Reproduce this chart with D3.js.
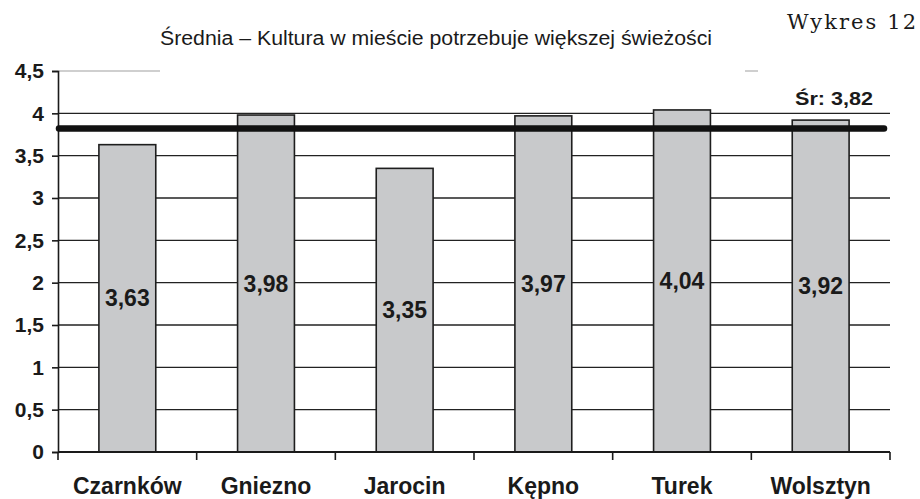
<!DOCTYPE html>
<html><head><meta charset="utf-8">
<script src="https://cdn.jsdelivr.net/npm/d3@7"></script>
<style>
html,body{margin:0;padding:0;background:#fff;}
svg{display:block;}
text{font-family:"Liberation Sans",Arial,sans-serif;fill:#1a1a1a;}
</style></head>
<body>
<svg id="chart" width="920" height="499"></svg>
<script>
const categories = ["Czarnków","Gniezno","Jarocin","Kępno","Turek","Wolsztyn"];
const values = [3.63, 3.98, 3.35, 3.97, 4.04, 3.92];
const meanValue = 3.82;
const yTicks = [0,0.5,1,1.5,2,2.5,3,3.5,4,4.5];
const title = "Średnia – Kultura w mieście potrzebuje większej świeżości";
const chartNo = "Wykres 12";
const fmt = v => String(v).replace(".", ",");

const svg = d3.select("#chart");
const m = {left:58, right:890, top:71, bottom:452};
const x = d3.scaleBand().domain(categories).range([m.left, m.right]).paddingInner(0).paddingOuter(0);
const y = d3.scaleLinear().domain([0,4.5]).range([m.bottom, m.top]);
const bw = x.bandwidth()*0.41;

// gridlines
svg.append("g").selectAll("line").data(yTicks.filter(t=>t>0 && t<4.5)).join("line")
  .attr("x1", m.left).attr("x2", m.right)
  .attr("y1", d=>y(d)).attr("y2", d=>y(d))
  .attr("stroke","#222").attr("stroke-width",1.4);
// faded top gridline (scan artifact)
svg.append("line").attr("x1",m.left).attr("x2",m.right).attr("y1",y(4.5)).attr("y2",y(4.5))
  .attr("stroke","#cfcfcf").attr("stroke-width",2.2)
  .attr("stroke-dasharray","102,585,13,1000");

// bars
svg.append("g").selectAll("rect").data(values).join("rect")
  .attr("x",(d,i)=>x(categories[i])+x.bandwidth()/2-bw/2)
  .attr("width",bw)
  .attr("y",d=>y(d)).attr("height",d=>y(0)-y(d))
  .attr("fill","#c8c9cb").attr("stroke","#1e1e1e").attr("stroke-width",1.6);

// value labels
svg.append("g").selectAll("text").data(values).join("text")
  .attr("x",(d,i)=>x(categories[i])+x.bandwidth()/2)
  .attr("y",d=>(y(d)+y(0))/2)
  .attr("text-anchor","middle").attr("dominant-baseline","central")
  .style("font-weight","bold").style("font-size","23px")
  .text(d=>fmt(d.toFixed(2)));

// axes
const yAxis = d3.axisLeft(y).tickValues(yTicks).tickSize(6).tickFormat(d=>fmt(d));
const gy = svg.append("g").attr("transform",`translate(${m.left},0)`).call(yAxis);
gy.select(".domain").attr("stroke","#1a1a1a").attr("stroke-width",1.6);
gy.selectAll(".tick line").attr("stroke","#1a1a1a").attr("stroke-width",1.6);
gy.selectAll(".tick text").attr("x",-14).style("font-size","21px").style("font-weight","bold")
  .style("font-family","'Liberation Sans',Arial,sans-serif").attr("fill","#1a1a1a");

const xEdges = categories.map(c=>x(c)).concat([m.right]);
svg.append("line").attr("x1",m.left).attr("x2",m.right).attr("y1",y(0)).attr("y2",y(0))
  .attr("stroke","#1a1a1a").attr("stroke-width",1.8);
svg.append("g").selectAll("line").data(xEdges).join("line")
  .attr("x1",d=>d).attr("x2",d=>d).attr("y1",y(0)).attr("y2",y(0)+8)
  .attr("stroke","#1a1a1a").attr("stroke-width",1.6);
svg.append("g").selectAll("text").data(categories).join("text")
  .attr("x",d=>x(d)+x.bandwidth()/2).attr("y",494)
  .attr("text-anchor","middle")
  .style("font-weight","bold").style("font-size","23px")
  .text(d=>d);

// mean line
svg.append("line").attr("x1",m.left+1).attr("x2",m.right-6)
  .attr("y1",y(meanValue)).attr("y2",y(meanValue))
  .attr("stroke","#111").attr("stroke-width",6.5).attr("stroke-linecap","round");
svg.append("text").attr("x",834).attr("y",105).attr("text-anchor","middle")
  .attr("textLength",78).attr("lengthAdjust","spacingAndGlyphs")
  .style("font-weight","bold").style("font-size","18px")
  .text("Śr: " + fmt(meanValue.toFixed(2)));

// titles
svg.append("text").attr("x",436).attr("y",45).attr("text-anchor","middle")
  .attr("textLength",552).attr("lengthAdjust","spacingAndGlyphs")
  .style("font-size","20px").attr("fill","#222")
  .text(title);
svg.append("text").attr("x",787).attr("y",29)
  .attr("textLength",129).attr("lengthAdjust","spacing")
  .style("font-family","'DejaVu Serif','Liberation Serif',serif").style("font-size","21px")
  .attr("fill","#333")
  .text(chartNo);
</script>
</body></html>
